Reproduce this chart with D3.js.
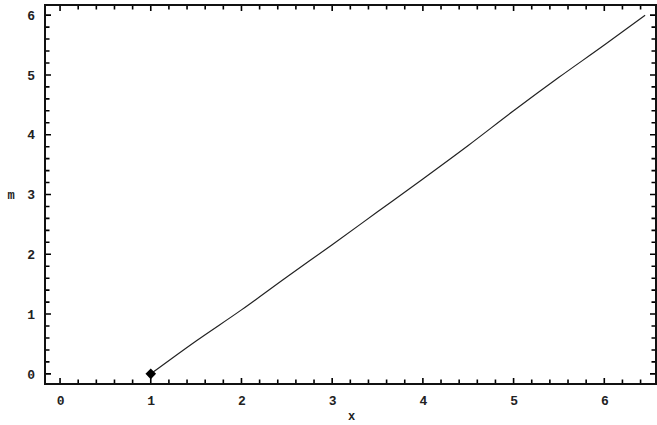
<!DOCTYPE html>
<html>
<head>
<meta charset="utf-8">
<script src="https://cdn.jsdelivr.net/npm/d3@7"></script>
<style>
  body { margin: 0; background: #fff; }
  text { font-family: "Liberation Mono", "DejaVu Sans Mono", monospace; }
</style>
</head>
<body>
<div id="chart"></div>
<script>
// Data
const xValues = [1, 1.5, 2, 2.5, 3, 3.5, 4, 4.5, 5, 5.5, 6, 6.45];
const mValues = [0, 0.55, 1.07, 1.62, 2.16, 2.71, 3.26, 3.82, 4.4, 4.96, 5.5, 6.0];
const startPoint = [{x: 1, m: 0}];
const xTicks = [0, 1, 2, 3, 4, 5, 6];
const yTicks = [0, 1, 2, 3, 4, 5, 6];

const W = 657, H = 425;
const frame = {left: 45, right: 656, top: 5, bottom: 384};

const svg = d3.select("#chart")
    .append("svg")
    .attr("width", W)
    .attr("height", H);

const xScale = d3.scaleLinear().domain([-0.166, 6.57]).range([frame.left, frame.right]);
const yScale = d3.scaleLinear().domain([-0.17, 6.17]).range([frame.bottom, frame.top]);

// minor ticks every 0.2
const minorX = d3.range(0, 33).map(i => i / 5).filter(v => v <= 6.5);
const minorY = d3.range(0, 31).map(i => i / 5).filter(v => v <= 6.1);

// frame ticks, pointing inward (drawn as one path)
const tl = v => (Math.abs(v - Math.round(v)) < 1e-9 ? 6 : 4.5);
let tickPath = "";
minorX.forEach(v => {
    const x = xScale(v);
    tickPath += `M${x},${frame.bottom}V${frame.bottom - tl(v)}`;
    tickPath += `M${x},${frame.top}V${frame.top + tl(v)}`;
});
minorY.forEach(v => {
    const y = yScale(v);
    tickPath += `M${frame.left},${y}H${frame.left + tl(v)}`;
    tickPath += `M${frame.right},${y}H${frame.right - tl(v)}`;
});
svg.append("path")
    .attr("d", tickPath)
    .attr("fill", "none")
    .attr("stroke", "#000")
    .attr("stroke-width", 1.6);

// tick labels
svg.append("g")
    .attr("transform", `translate(0,${frame.bottom})`)
    .call(d3.axisBottom(xScale).tickValues(xTicks).tickSize(0).tickPadding(12).tickFormat(d3.format("d")))
    .call(g => g.select(".domain").remove())
    .call(g => g.selectAll("text").attr("font-size", 13).attr("font-weight", "bold").attr("fill", "#222").attr("font-family", "Liberation Mono, monospace"));

svg.append("g")
    .attr("transform", `translate(${frame.left},0)`)
    .call(d3.axisLeft(yScale).tickValues(yTicks).tickSize(0).tickPadding(10).tickFormat(d3.format("d")))
    .call(g => g.select(".domain").remove())
    .call(g => g.selectAll("text").attr("font-size", 13).attr("font-weight", "bold").attr("fill", "#222").attr("font-family", "Liberation Mono, monospace"));

// frame
svg.append("rect")
    .attr("x", frame.left)
    .attr("y", frame.top)
    .attr("width", frame.right - frame.left)
    .attr("height", frame.bottom - frame.top)
    .attr("fill", "none")
    .attr("stroke", "#111")
    .attr("stroke-width", 2);

// curve
const line = d3.line()
    .x((d, i) => xScale(xValues[i]))
    .y(d => yScale(d))
    .curve(d3.curveMonotoneX);

svg.append("path")
    .attr("d", line(mValues))
    .attr("fill", "none")
    .attr("stroke", "#222")
    .attr("stroke-width", 1.2);

// start point
svg.selectAll(".pt")
    .data(startPoint)
    .join("path")
    .attr("class", "pt")
    .attr("transform", d => `translate(${xScale(d.x)},${yScale(d.m)}) rotate(45)`)
    .attr("d", d3.symbol().type(d3.symbolSquare).size(56))
    .attr("fill", "#000");

// axis labels
svg.append("text")
    .attr("x", (frame.left + frame.right) / 2 + 1)
    .attr("y", 420)
    .attr("text-anchor", "middle")
    .attr("font-size", 12)
    .attr("font-weight", "bold")
    .attr("fill", "#222")
    .text("x");

svg.append("text")
    .attr("x", 11)
    .attr("y", 199)
    .attr("text-anchor", "middle")
    .attr("font-size", 12)
    .attr("font-weight", "bold")
    .attr("fill", "#222")
    .text("m");
</script>
</body>
</html>
